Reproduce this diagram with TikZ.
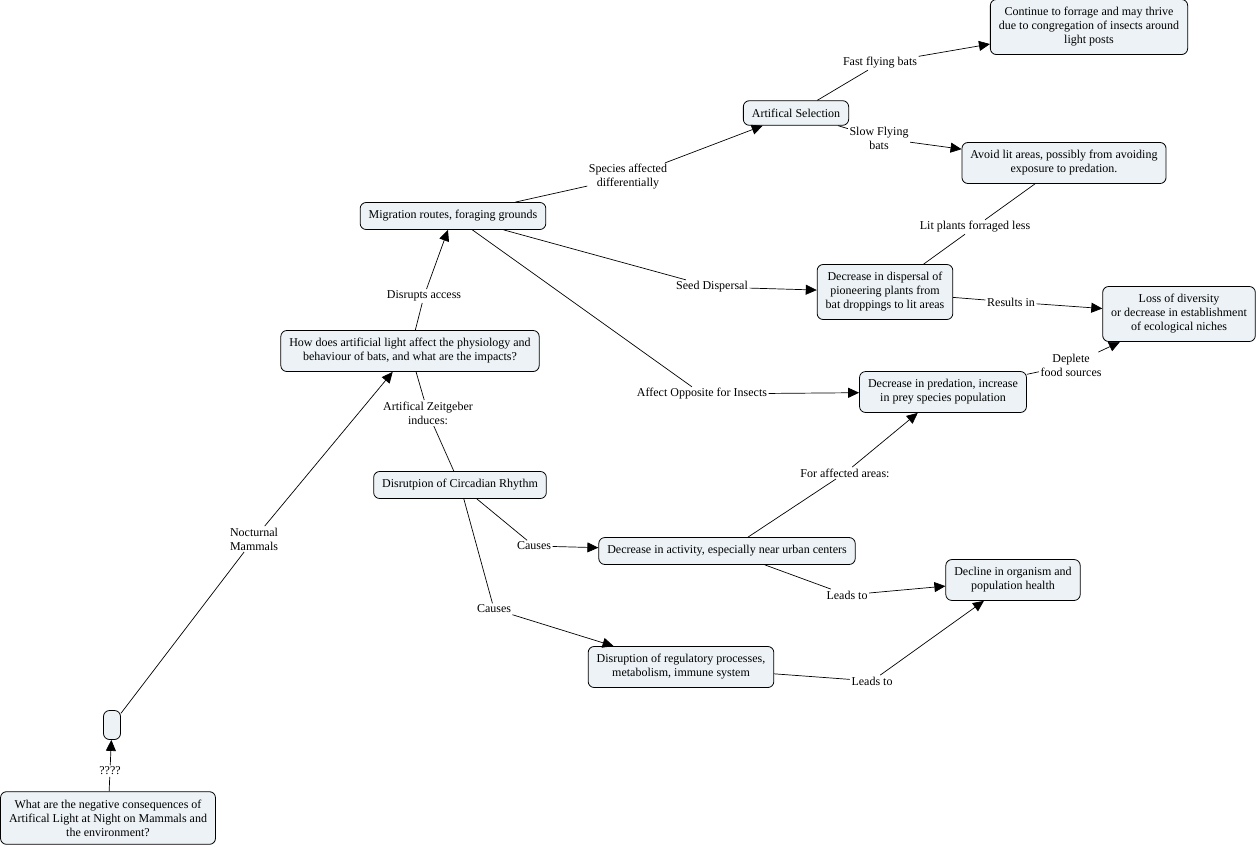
\documentclass[tikz,border=0pt]{standalone}
\usepackage{fontspec}
\setmainfont{Liberation Serif}
\usetikzlibrary{arrows.meta}
\definecolor{boxfill}{RGB}{236,242,245}
\tikzset{
  concept/.style={draw=black, line width=0.8pt, fill=boxfill, rounded corners=6pt,
    align=center, inner xsep=8.5pt, inner ysep=8pt, font=\fontsize{12}{14}\selectfont},
  lbl/.style={align=center, inner sep=1.5pt, font=\fontsize{12}{14}\selectfont},
  link/.style={line width=0.7pt},
  arr/.style={line width=0.7pt, -{Triangle[length=11pt,width=10pt]}}
}
\begin{document}
\begin{tikzpicture}[x=1pt,y=-1pt]
\useasboundingbox (0,0) rectangle (1258,846);
% concepts
\node[concept] (q0) at (108,818) {What are the negative consequences of\\Artifical Light at Night on Mammals and\\the environment?};
\node[concept, minimum width=17pt, minimum height=29pt, inner sep=0pt] (e) at (112,725) {};
\node[concept] (how) at (410,351) {How does artificial light affect the physiology and\\behaviour of bats, and what are the impacts?};
\node[concept] (mig) at (453,216) {Migration routes, foraging grounds};
\node[concept] (sel) at (796,113) {Artifical Selection};
\node[concept] (cont) at (1089,27) {Continue to forrage and may thrive\\due to congregation of insects around\\light posts};
\node[concept] (avoid) at (1064,163) {Avoid lit areas, possibly from avoiding\\exposure to predation.};
\node[concept] (disp) at (885,292) {Decrease in dispersal of\\pioneering plants from\\bat droppings to lit areas};
\node[concept] (loss) at (1179,314) {Loss of diversity\\or decrease in establishment\\of ecological niches};
\node[concept] (pred) at (943,392) {Decrease in predation, increase\\in prey species population};
\node[concept] (circ) at (460,485) {Disrutpion of Circadian Rhythm};
\node[concept] (act) at (727,551) {Decrease in activity, especially near urban centers};
\node[concept] (decl) at (1013,580) {Decline in organism and\\population health};
\node[concept] (reg) at (681,667) {Disruption of regulatory processes,\\metabolism, immune system};
% labels
\node[lbl] (l1) at (110,771) {????};
\node[lbl] (l2) at (254,539) {Nocturnal\\Mammals};
\node[lbl] (l3) at (424,296) {Disrupts access};
\node[lbl] (l4) at (428,413) {Artifical Zeitgeber\\induces:};
\node[lbl] (l5) at (628,177) {Species affected\\differentially};
\node[lbl] (l6) at (880,63) {Fast flying bats};
\node[lbl] (l7) at (879,138) {Slow Flying\\bats};
\node[lbl] (l8) at (712,287) {Seed Dispersal};
\node[lbl] (l9) at (975,227) {Lit plants forraged less};
\node[lbl] (l10) at (1011,302) {Results in};
\node[lbl] (l11) at (702,394) {Affect Opposite for Insects};
\node[lbl] (l12) at (1071,365) {Deplete\\food sources};
\node[lbl] (l13) at (845,473) {For affected areas:};
\node[lbl] (l14) at (534,546) {Causes};
\node[lbl] (l15) at (494,609) {Causes};
\node[lbl] (l16) at (847,595) {Leads to};
\node[lbl] (l17) at (872,681) {Leads to};
% links
\draw[link] (q0) -- (l1); \draw[arr] (l1) -- (e);
\draw[link] (e) -- (l2); \draw[arr] (l2) -- (how);
\draw[link] (how) -- (l3); \draw[arr] (l3) -- (mig);
\draw[link] (how) -- (l4); \draw[link] (l4) -- (circ);
\draw[link] (mig) -- (l5); \draw[arr] (l5) -- (sel);
\draw[link] (sel) -- (l6); \draw[arr] (l6) -- (cont);
\draw[link] (sel) -- (l7); \draw[arr] (l7) -- (avoid);
\draw[link] (mig) -- (l8); \draw[arr] (l8) -- (disp);
\draw[link] (disp) -- (l9); \draw[link] (l9) -- (avoid);
\draw[link] (disp) -- (l10); \draw[arr] (l10) -- (loss);
\draw[link] (mig) -- (l11); \draw[arr] (l11) -- (pred);
\draw[link] (pred) -- (l12); \draw[arr] (l12) -- (loss);
\draw[link] (act) -- (l13); \draw[arr] (l13) -- (pred);
\draw[link] (circ) -- (l14); \draw[arr] (l14) -- (act);
\draw[link] (circ) -- (l15); \draw[arr] (l15) -- (reg);
\draw[link] (act) -- (l16); \draw[arr] (l16) -- (decl);
\draw[link] (reg) -- (l17); \draw[arr] (l17) -- (decl);
\end{tikzpicture}
\end{document}
